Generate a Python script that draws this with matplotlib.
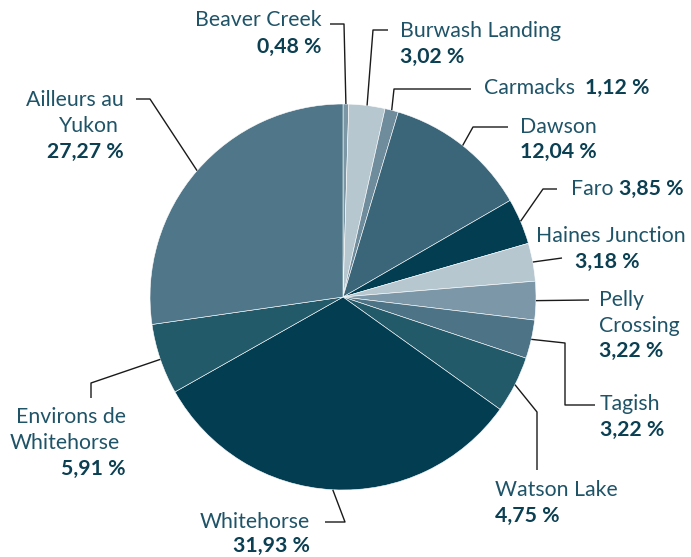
import numpy as np
import matplotlib
matplotlib.use("Agg")
import matplotlib.pyplot as plt

# data
communities = ["Beaver Creek", "Burwash Landing", "Carmacks", "Dawson", "Faro",
               "Haines Junction", "Pelly Crossing", "Tagish", "Watson Lake",
               "Whitehorse", "Environs de Whitehorse", "Ailleurs au Yukon"]
shares = [0.48, 3.02, 1.12, 12.04, 3.85, 3.18, 3.22, 3.22, 4.75, 31.93, 5.91, 27.27]
colors = ["#7b96a5", "#b7c7d0", "#6f8c9c", "#3b6679", "#033d51", "#b7c7d0",
          "#7b97a8", "#4d7386", "#235a6a", "#033d51", "#235a6a", "#4f7689"]

W, H = 691, 557
CX, CY, R = 343, 297, 193
NAME_C = "#1f5468"
VAL_C = "#0b3f52"
FS = 15.3

plt.rcParams["font.family"] = ["Lato", "DejaVu Sans"]

fig = plt.figure(figsize=(W / 100, H / 100), dpi=100)
ax = fig.add_axes([0, 0, 1, 1])


def Y(y):
    return H - y


ax.pie(shares, colors=colors, startangle=90, counterclock=False, radius=R,
       center=(CX, Y(CY)), frame=True,
       wedgeprops=dict(edgecolor="white", linewidth=0.4))
ax.set_xlim(0, W)
ax.set_ylim(0, H)
ax.set_aspect("equal")
ax.axis("off")

# leader line elbows (pixel coords, y down) and label layout
layout = [
    ([(344, 24), (330, 24)], [(322, 20, "Beaver Creek", False, "right"), (322, 47, "0,48 %", True, "right")]),
    ([(373, 30), (388, 30)], [(400, 31, "Burwash Landing", False, "left"), (400, 57, "3,02 %", True, "left")]),
    ([(394, 89), (471, 89)], [(484, 88, "Carmacks", False, "left"), (585, 88, "1,12 %", True, "left")]),
    ([(473, 127), (508, 127)], [(520, 127, "Dawson", False, "left"), (520, 152, "12,04 %", True, "left")]),
    ([(543, 189), (557, 189)], [(571, 189, "Faro", False, "left"), (619, 189, "3,85 %", True, "left")]),
    ([(562, 258)], [(536, 236, "Haines Junction", False, "left"), (575, 262, "3,18 %", True, "left")]),
    ([(589, 300)], [(599, 300, "Pelly", False, "left"), (599, 326, "Crossing", False, "left"), (599, 351, "3,22 %", True, "left")]),
    ([(565, 343), (565, 405), (595, 405)], [(600, 404, "Tagish", False, "left"), (600, 430, "3,22 %", True, "left")]),
    ([(537, 412), (537, 470)], [(495, 490, "Watson Lake", False, "left"), (495, 516, "4,75 %", True, "left")]),
    ([(345, 522), (325, 522)], [(310, 522, "Whitehorse", False, "right"), (310, 546, "31,93 %", True, "right")]),
    ([(91, 383), (91, 398)], [(126, 417, "Environs de", False, "right"), (120, 443, "Whitehorse", False, "right"), (126, 469, "5,91 %", True, "right")]),
    ([(150, 99), (136, 99)], [(124, 100, "Ailleurs au", False, "right"), (119, 126, "Yukon", False, "right"), (124, 152, "27,27 %", True, "right")]),
]

cum = np.cumsum([0] + shares[:-1])
for i, (elbows, texts) in enumerate(layout):
    mid = 90 - (cum[i] + shares[i] / 2) * 3.6
    a = np.deg2rad(mid)
    sx, sy = CX + R * np.cos(a), CY - R * np.sin(a)
    xs = [sx] + [p[0] for p in elbows]
    ys = [Y(sy)] + [Y(p[1]) for p in elbows]
    ax.plot(xs, ys, color="#1a1a1a", lw=1.0, solid_capstyle="butt")
    for tx, ty, s, bold, ha in texts:
        ax.text(tx, Y(ty), s, ha=ha, va="center", fontsize=FS,
                fontweight="bold" if bold else "normal",
                color=VAL_C if bold else NAME_C)

fig.savefig("out.png", dpi=100)
